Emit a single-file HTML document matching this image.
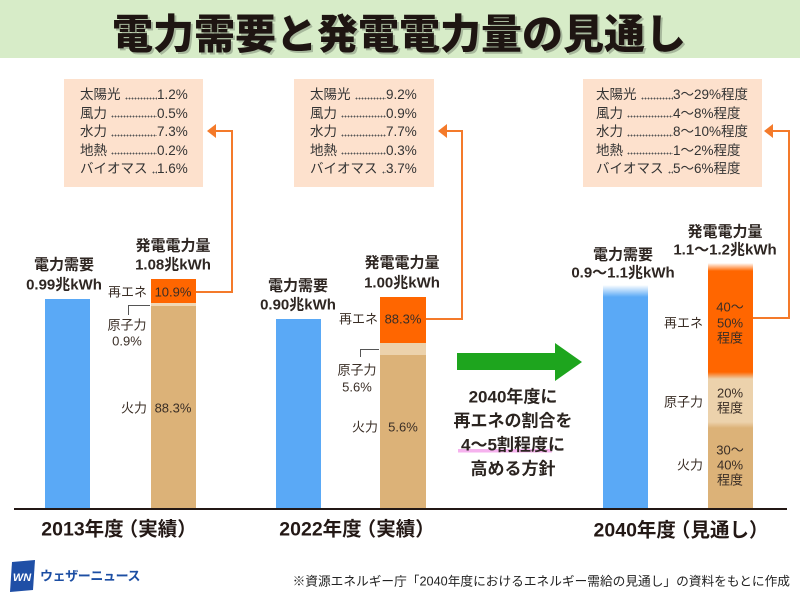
<!DOCTYPE html>
<html><head><meta charset="utf-8">
<style>
html,body{margin:0;padding:0;}
body{width:800px;height:600px;overflow:hidden;position:relative;background:#fff;font-family:"Liberation Sans","Noto Sans CJK JP",sans-serif;color:#2b2420;}
.t{position:absolute;white-space:nowrap;line-height:1;transform:translate(-50%,-50%);}
.r{transform:translate(-100%,-50%);}
.b{font-weight:bold;font-size:15px;color:#2e2622;}
.s{font-size:13px;color:#3a2e26;}
.cat{font-weight:bold;font-size:19.5px;color:#231815;}
.op{margin-left:-5px;}
.box{position:absolute;background:#fde1cd;top:79px;height:108px;}
.rows{position:absolute;top:86px;font-size:13.5px;line-height:18.5px;color:#333;}
.row{display:flex;white-space:nowrap;}
.lab{display:flex;}
.dots{flex:1;margin-left:4px;background:radial-gradient(circle,#555 0.75px,transparent 1.05px) repeat-x;background-size:3px 3px;background-position:0 calc(50% + 3px);}
.bar{position:absolute;}
</style></head><body>

<div style="position:absolute;left:0;top:0;width:800px;height:58px;background:#d7ecc8;"></div>
<div class="t" style="left:399px;top:31px;font-family:'Noto Sans CJK JP',sans-serif;font-weight:900;font-size:41px;letter-spacing:0px;color:#1e1512;text-shadow:2px 2px 0 rgba(0,0,0,0.22);">電力需要と発電電力量の見通し</div>

<!-- info boxes -->
<div class="box" style="left:64px;width:139px;"></div>
<div class="rows" style="left:80px;">
  <div class="row"><div class="lab" style="width:77px"><span>太陽光</span><span class="dots"></span></div><span>1.2%</span></div>
  <div class="row"><div class="lab" style="width:77px"><span>風力</span><span class="dots"></span></div><span>0.5%</span></div>
  <div class="row"><div class="lab" style="width:77px"><span>水力</span><span class="dots"></span></div><span>7.3%</span></div>
  <div class="row"><div class="lab" style="width:77px"><span>地熱</span><span class="dots"></span></div><span>0.2%</span></div>
  <div class="row"><div class="lab" style="width:77px"><span>バイオマス</span><span class="dots"></span></div><span>1.6%</span></div>
</div>

<div class="box" style="left:294px;width:140px;"></div>
<div class="rows" style="left:310px;">
  <div class="row"><div class="lab" style="width:76px"><span>太陽光</span><span class="dots"></span></div><span>9.2%</span></div>
  <div class="row"><div class="lab" style="width:76px"><span>風力</span><span class="dots"></span></div><span>0.9%</span></div>
  <div class="row"><div class="lab" style="width:76px"><span>水力</span><span class="dots"></span></div><span>7.7%</span></div>
  <div class="row"><div class="lab" style="width:76px"><span>地熱</span><span class="dots"></span></div><span>0.3%</span></div>
  <div class="row"><div class="lab" style="width:76px"><span>バイオマス</span><span class="dots"></span></div><span>3.7%</span></div>
</div>

<div class="box" style="left:583px;width:179px;"></div>
<div class="rows" style="left:596px;">
  <div class="row"><div class="lab" style="width:77px"><span>太陽光</span><span class="dots"></span></div><span>3〜29%程度</span></div>
  <div class="row"><div class="lab" style="width:77px"><span>風力</span><span class="dots"></span></div><span>4〜8%程度</span></div>
  <div class="row"><div class="lab" style="width:77px"><span>水力</span><span class="dots"></span></div><span>8〜10%程度</span></div>
  <div class="row"><div class="lab" style="width:77px"><span>地熱</span><span class="dots"></span></div><span>1〜2%程度</span></div>
  <div class="row"><div class="lab" style="width:77px"><span>バイオマス</span><span class="dots"></span></div><span>5〜6%程度</span></div>
</div>

<!-- bars -->
<div class="bar" style="left:45px;top:299px;width:45px;height:210px;background:#5aa9f6;"></div>
<div class="bar" style="left:151px;top:279px;width:45px;height:24px;background:#ff6600;"></div>
<div class="bar" style="left:151px;top:303px;width:45px;height:3px;background:#f0d8b6;"></div>
<div class="bar" style="left:151px;top:306px;width:45px;height:203px;background:#dcb278;"></div>

<div class="bar" style="left:276px;top:319px;width:45px;height:190px;background:#5aa9f6;"></div>
<div class="bar" style="left:380px;top:297px;width:46px;height:46px;background:#ff6600;"></div>
<div class="bar" style="left:380px;top:343px;width:46px;height:12px;background:#ecd2ac;"></div>
<div class="bar" style="left:380px;top:355px;width:46px;height:154px;background:#dcb278;"></div>

<div class="bar" style="left:603px;top:285px;width:45px;height:224px;background:linear-gradient(to bottom,rgba(90,169,246,0) 0px,#5aa9f6 12px);"></div>
<div class="bar" style="left:708px;top:263px;width:45px;height:246px;background:linear-gradient(to bottom,rgba(255,102,0,0) 0px,#ff6600 8px,#ff6600 109px,#ecd2ac 116px,#ecd2ac 159px,#dcb278 165px);"></div>

<div style="position:absolute;left:14px;top:508px;width:773px;height:2px;background:#231815;"></div>

<svg width="800" height="600" style="position:absolute;left:0;top:0;" xmlns="http://www.w3.org/2000/svg">
  <g fill="none" stroke="#f47a2a" stroke-width="2">
    <polyline points="196,292 232,292 232,131 214,131"/>
    <polyline points="426,319 462,319 462,131 445,131"/>
    <polyline points="753,318 789,318 789,131 771,131"/>
  </g>
  <g fill="#f47a2a">
    <polygon points="207,131 216,124 216,138"/>
    <polygon points="438,131 447,124 447,138"/>
    <polygon points="764,131 773,124 773,138"/>
  </g>
  <g fill="none" stroke="#555" stroke-width="1">
    <polyline points="150,305.5 128.5,305.5 128.5,315"/>
    <polyline points="379,349.5 360.5,349.5 360.5,357"/>
  </g>
  <polygon points="457,353 555,353 555,343 582,362 555,381 555,370 457,370" fill="#1ea51e"/>
  <rect x="458" y="449" width="94" height="3.5" fill="#f6b2ee"/>
  <polygon points="12,562 35,560 33,590 10,592" fill="#1f4fa6"/>
  <text x="22" y="581" font-family="Liberation Sans, sans-serif" font-weight="bold" font-style="italic" font-size="11" fill="#fff" text-anchor="middle">WN</text>
</svg>

<!-- left group labels -->
<div class="t b" style="left:173px;top:246px;">発電電力量</div>
<div class="t b" style="left:173px;top:265px;">1.08兆kWh</div>
<div class="t b" style="left:64px;top:265px;">電力需要</div>
<div class="t b" style="left:64px;top:285px;">0.99兆kWh</div>
<div class="t s r" style="left:147px;top:292px;">再エネ</div>
<div class="t s" style="left:173px;top:292px;">10.9%</div>
<div class="t s" style="left:127px;top:325px;">原子力</div>
<div class="t s" style="left:127px;top:341px;">0.9%</div>
<div class="t s r" style="left:147px;top:408px;">火力</div>
<div class="t s" style="left:173px;top:408px;">88.3%</div>

<!-- middle group labels -->
<div class="t b" style="left:402px;top:263px;">発電電力量</div>
<div class="t b" style="left:402px;top:283px;">1.00兆kWh</div>
<div class="t b" style="left:298px;top:286px;">電力需要</div>
<div class="t b" style="left:298px;top:305px;">0.90兆kWh</div>
<div class="t s r" style="left:378px;top:319px;">再エネ</div>
<div class="t s" style="left:403px;top:319px;">88.3%</div>
<div class="t s" style="left:357px;top:370px;">原子力</div>
<div class="t s" style="left:357px;top:387px;">5.6%</div>
<div class="t s r" style="left:378px;top:427px;">火力</div>
<div class="t s" style="left:403px;top:427px;">5.6%</div>

<!-- right group labels -->
<div class="t b" style="left:725px;top:232px;">発電電力量</div>
<div class="t b" style="left:725px;top:250px;">1.1〜1.2兆kWh</div>
<div class="t b" style="left:623px;top:255px;">電力需要</div>
<div class="t b" style="left:623px;top:273px;">0.9〜1.1兆kWh</div>
<div class="t s r" style="left:703px;top:323px;">再エネ</div>
<div class="t s" style="left:730px;top:307px;">40〜</div>
<div class="t s" style="left:730px;top:323px;">50%</div>
<div class="t s" style="left:730px;top:338px;">程度</div>
<div class="t s r" style="left:703px;top:402px;">原子力</div>
<div class="t s" style="left:730px;top:393px;">20%</div>
<div class="t s" style="left:730px;top:408px;">程度</div>
<div class="t s r" style="left:703px;top:465px;">火力</div>
<div class="t s" style="left:730px;top:450px;">30〜</div>
<div class="t s" style="left:730px;top:465px;">40%</div>
<div class="t s" style="left:730px;top:480px;">程度</div>

<!-- green arrow text -->
<div class="t" style="left:513px;top:397px;font-weight:bold;font-size:17px;color:#2b2420;">2040年度に</div>
<div class="t" style="left:513px;top:421px;font-weight:bold;font-size:17px;color:#2b2420;">再エネの割合を</div>
<div class="t" style="left:513px;top:445px;font-weight:bold;font-size:17px;color:#2b2420;">4〜5割程度に</div>
<div class="t" style="left:513px;top:469px;font-weight:bold;font-size:17px;color:#2b2420;">高める方針</div>

<!-- categories -->
<div class="t cat" style="left:119px;top:530px;">2013年度<span class="op">（</span>実績）</div>
<div class="t cat" style="left:357px;top:530px;">2022年度<span class="op">（</span>実績）</div>
<div class="t cat" style="left:681px;top:531px;">2040年度<span class="op">（</span>見通し）</div>

<!-- footer -->
<div class="t" style="left:40px;top:576px;transform:translate(0,-50%);font-weight:bold;font-size:13px;letter-spacing:-0.4px;color:#1c4ea3;">ウェザーニュース</div>
<div class="t r" style="left:790px;top:582px;font-size:12.7px;color:#222;">※資源エネルギー庁「2040年度におけるエネルギー需給の見通し」の資料をもとに作成</div>

</body></html>
